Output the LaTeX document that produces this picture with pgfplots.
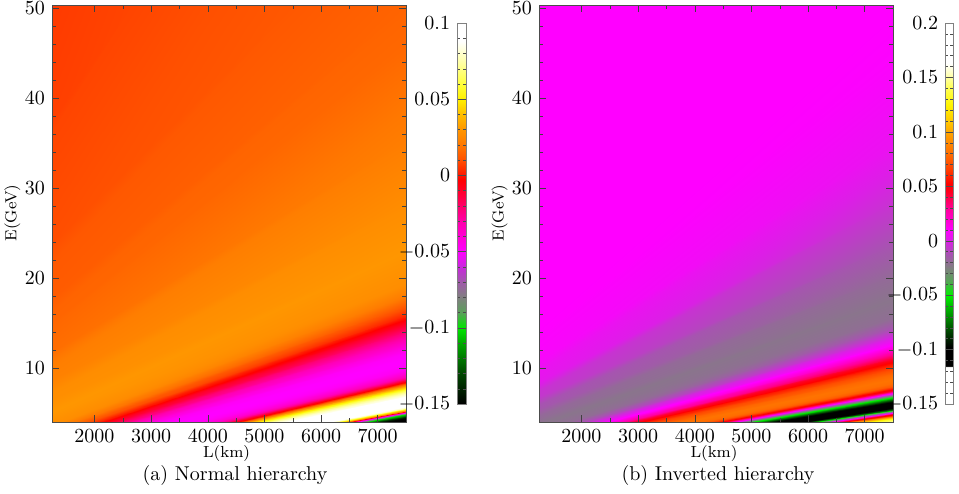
\documentclass[border=0pt]{standalone}
\usepackage{pgfplots}
\pgfplotsset{compat=1.18}
\pgfplotsset{
  colormap={mapA}{rgb255(0pt)=(0,0,0); rgb255(20pt)=(0,70,0); rgb255(40pt)=(0,170,0); rgb255(50pt)=(0,230,0);
    rgb255(60pt)=(90,160,90); rgb255(70pt)=(128,128,128); rgb255(80pt)=(160,90,170); rgb255(90pt)=(200,40,220);
    rgb255(100pt)=(255,0,255); rgb255(120pt)=(255,0,170); rgb255(140pt)=(255,0,40); rgb255(147pt)=(255,0,0);
    rgb255(153pt)=(255,40,0); rgb255(160pt)=(255,80,0); rgb255(170pt)=(255,120,0); rgb255(180pt)=(255,150,0);
    rgb255(190pt)=(255,190,0); rgb255(200pt)=(255,240,0); rgb255(210pt)=(255,255,60); rgb255(225pt)=(255,255,170);
    rgb255(238pt)=(255,255,255); rgb255(250pt)=(255,255,255)},
  colormap={mapB}{rgb255(0pt)=(255,255,255); rgb255(34pt)=(255,255,255); rgb255(35pt)=(0,0,0); rgb255(52pt)=(0,0,0);
    rgb255(65pt)=(0,60,0); rgb255(80pt)=(0,140,0); rgb255(100pt)=(0,240,0); rgb255(114pt)=(90,160,90);
    rgb255(125pt)=(128,128,128); rgb255(138pt)=(170,80,180); rgb255(150pt)=(220,30,230); rgb255(160pt)=(255,0,255);
    rgb255(180pt)=(255,0,150); rgb255(195pt)=(255,0,30); rgb255(202pt)=(255,0,0); rgb255(215pt)=(255,60,0);
    rgb255(230pt)=(255,110,0); rgb255(245pt)=(255,150,0); rgb255(260pt)=(255,200,0); rgb255(275pt)=(255,245,0);
    rgb255(290pt)=(255,255,80); rgb255(305pt)=(255,255,200); rgb255(313pt)=(255,255,255); rgb255(350pt)=(255,255,255)},
}
\begin{document}
\begin{tikzpicture}
\path[use as bounding box] (0,0) rectangle (479.5pt,246.5pt);

% (a) Normal hierarchy
\begin{axis}[at={(26pt,35.5pt)}, anchor=south west,
  scale only axis, width=177pt, height=208.5pt,
  xmin=1250, xmax=7500, ymin=4, ymax=50.3,
  xtick={2000,3000,4000,5000,6000,7000},
  xticklabels={2000,3000,4000,5000,6000,7000},
  ytick={10,20,30,40,50},
  minor x tick num=1, minor y tick num=4,
  tick align=inside,
  major tick length=3.5pt, minor tick length=2pt,
  tick style={black!75}, axis line style={black!70},
  axis on top,
  colormap name=mapA, point meta min=-0.15, point meta max=0.1,
  colorbar,
  colorbar style={at={(parent axis.south east)}, anchor=south west, xshift=17pt, yshift=9pt,
    scale only axis, width=4.5pt, height=190.5pt,
    yticklabel pos=left, minor y tick num=4, tick align=inside,
    major tick length=2.5pt, minor tick length=1.5pt,
    axis line style={black!50}, tick style={black!70},
    ytick={-0.15,-0.1,-0.05,0,0.05,0.1},
    yticklabels={$-0.15$,$-0.1$,$-0.05$,$0$,$0.05$,$0.1$}}]
\addplot[patch, patch type=triangle, shader=interp, point meta=explicit] table[x=L, y=E, meta=v] {
L E v
-2424 3.9 0.005
-1980 3.9 0.008
2730 51 0.008
-2424 3.9 0.005
2730 51 0.008
402 51 0.005
-1980 3.9 0.008
-1425 3.9 0.012
5640 51 0.012
-1980 3.9 0.008
5640 51 0.012
2730 51 0.008
-1425 3.9 0.012
-1036 3.9 0.015
7677 51 0.015
-1425 3.9 0.012
7677 51 0.015
5640 51 0.012
-1036 3.9 0.015
-870 3.9 0.016
7600 46.25 0.016
-1036 3.9 0.015
7600 46.25 0.016
7677 51 0.015
-870 3.9 0.016
-315 3.9 0.022
7600 35.56 0.022
-870 3.9 0.016
7600 35.56 0.022
7600 46.25 0.016
-315 3.9 0.022
240 3.9 0.027
7600 28.43 0.027
-315 3.9 0.022
7600 28.43 0.027
7600 35.56 0.022
240 3.9 0.027
795 3.9 0.030
7600 23.34 0.030
240 3.9 0.027
7600 23.34 0.030
7600 28.43 0.027
795 3.9 0.030
1350 3.9 0.027
7600 19.53 0.027
795 3.9 0.030
7600 19.53 0.027
7600 23.34 0.030
1350 3.9 0.027
1572 3.9 0.021
7600 18.25 0.021
1350 3.9 0.027
7600 18.25 0.021
7600 19.53 0.027
1572 3.9 0.021
1794 3.9 0.012
7600 17.10 0.012
1572 3.9 0.021
7600 17.10 0.012
7600 18.25 0.021
1794 3.9 0.012
2016 3.9 0.002
7600 16.04 0.002
1794 3.9 0.012
7600 16.04 0.002
7600 17.10 0.012
2016 3.9 0.002
2238 3.9 -0.010
7600 15.07 -0.010
2016 3.9 0.002
7600 15.07 -0.010
7600 16.04 0.002
2238 3.9 -0.010
2460 3.9 -0.022
7600 14.18 -0.022
2238 3.9 -0.010
7600 14.18 -0.022
7600 15.07 -0.010
2460 3.9 -0.022
2682 3.9 -0.033
7600 13.36 -0.033
2460 3.9 -0.022
7600 13.36 -0.033
7600 14.18 -0.022
2682 3.9 -0.033
2904 3.9 -0.042
7600 12.60 -0.042
2682 3.9 -0.033
7600 12.60 -0.042
7600 13.36 -0.033
2904 3.9 -0.042
3126 3.9 -0.048
7600 11.89 -0.048
2904 3.9 -0.042
7600 11.89 -0.048
7600 12.60 -0.042
3126 3.9 -0.048
3348 3.9 -0.050
7600 11.23 -0.050
3126 3.9 -0.048
7600 11.23 -0.050
7600 11.89 -0.048
3348 3.9 -0.050
3570 3.9 -0.050
7600 10.62 -0.050
3348 3.9 -0.050
7600 10.62 -0.050
7600 11.23 -0.050
3570 3.9 -0.050
3792 3.9 -0.047
7600 10.04 -0.047
3570 3.9 -0.050
7600 10.04 -0.047
7600 10.62 -0.050
3792 3.9 -0.047
4014 3.9 -0.040
7600 9.50 -0.040
3792 3.9 -0.047
7600 9.50 -0.040
7600 10.04 -0.047
4014 3.9 -0.040
4125 3.9 -0.033
7600 9.25 -0.033
4014 3.9 -0.040
7600 9.25 -0.033
7600 9.50 -0.040
4125 3.9 -0.033
4236 3.9 -0.024
7600 9.00 -0.024
4125 3.9 -0.033
7600 9.00 -0.024
7600 9.25 -0.033
4236 3.9 -0.024
4347 3.9 -0.012
7600 8.76 -0.012
4236 3.9 -0.024
7600 8.76 -0.012
7600 9.00 -0.024
4347 3.9 -0.012
4458 3.9 0.000
7600 8.52 0.000
4347 3.9 -0.012
7600 8.52 0.000
7600 8.76 -0.012
4458 3.9 0.000
4569 3.9 0.018
7600 8.29 0.018
4458 3.9 0.000
7600 8.29 0.018
7600 8.52 0.000
4569 3.9 0.018
4680 3.9 0.036
7600 8.07 0.036
4569 3.9 0.018
7600 8.07 0.036
7600 8.29 0.018
4680 3.9 0.036
4791 3.9 0.050
7600 7.86 0.050
4680 3.9 0.036
7600 7.86 0.050
7600 8.07 0.036
4791 3.9 0.050
4902 3.9 0.062
7600 7.65 0.062
4791 3.9 0.050
7600 7.65 0.062
7600 7.86 0.050
4902 3.9 0.062
5013 3.9 0.072
7600 7.44 0.072
4902 3.9 0.062
7600 7.44 0.072
7600 7.65 0.062
5013 3.9 0.072
5124 3.9 0.080
7600 7.25 0.080
5013 3.9 0.072
7600 7.25 0.080
7600 7.44 0.072
5124 3.9 0.080
5235 3.9 0.086
7600 7.05 0.086
5124 3.9 0.080
7600 7.05 0.086
7600 7.25 0.080
5235 3.9 0.086
5346 3.9 0.091
7600 6.87 0.091
5235 3.9 0.086
7600 6.87 0.091
7600 7.05 0.086
5346 3.9 0.091
5457 3.9 0.096
7600 6.68 0.096
5346 3.9 0.091
7600 6.68 0.096
7600 6.87 0.091
5457 3.9 0.096
5568 3.9 0.099
7600 6.51 0.099
5457 3.9 0.096
7600 6.51 0.099
7600 6.68 0.096
5568 3.9 0.099
5679 3.9 0.100
7600 6.33 0.100
5568 3.9 0.099
7600 6.33 0.100
7600 6.51 0.099
5679 3.9 0.100
5790 3.9 0.099
7600 6.16 0.099
5679 3.9 0.100
7600 6.16 0.099
7600 6.33 0.100
5790 3.9 0.099
5901 3.9 0.096
7600 6.00 0.096
5790 3.9 0.099
7600 6.00 0.096
7600 6.16 0.099
5901 3.9 0.096
6012 3.9 0.090
7600 5.84 0.090
5901 3.9 0.096
7600 5.84 0.090
7600 6.00 0.096
6012 3.9 0.090
6123 3.9 0.076
7600 5.68 0.076
6012 3.9 0.090
7600 5.68 0.076
7600 5.84 0.090
6123 3.9 0.076
6234 3.9 0.052
7600 5.53 0.052
6123 3.9 0.076
7600 5.53 0.052
7600 5.68 0.076
6234 3.9 0.052
6345 3.9 0.015
7600 5.38 0.015
6234 3.9 0.052
7600 5.38 0.015
7600 5.53 0.052
6345 3.9 0.015
6456 3.9 -0.030
7600 5.23 -0.030
6345 3.9 0.015
7600 5.23 -0.030
7600 5.38 0.015
6456 3.9 -0.030
6567 3.9 -0.070
7600 5.09 -0.070
6456 3.9 -0.030
7600 5.09 -0.070
7600 5.23 -0.030
6567 3.9 -0.070
6678 3.9 -0.100
7600 4.95 -0.100
6567 3.9 -0.070
7600 4.95 -0.100
7600 5.09 -0.070
6678 3.9 -0.100
6789 3.9 -0.122
7600 4.81 -0.122
6678 3.9 -0.100
7600 4.81 -0.122
7600 4.95 -0.100
6789 3.9 -0.122
6900 3.9 -0.138
7600 4.68 -0.138
6789 3.9 -0.122
7600 4.68 -0.138
7600 4.81 -0.122
6900 3.9 -0.138
7011 3.9 -0.148
7600 4.55 -0.148
6900 3.9 -0.138
7600 4.55 -0.148
7600 4.68 -0.138
7011 3.9 -0.148
7122 3.9 -0.150
7600 4.42 -0.150
7011 3.9 -0.148
7600 4.42 -0.150
7600 4.55 -0.148
7122 3.9 -0.150
7566 3.9 -0.150
7600 3.94 -0.150
7122 3.9 -0.150
7600 3.94 -0.150
7600 4.42 -0.150
};
\end{axis}

% (b) Inverted hierarchy
\begin{axis}[at={(269.5pt,35.5pt)}, anchor=south west,
  scale only axis, width=177pt, height=208.5pt,
  xmin=1250, xmax=7500, ymin=4, ymax=50.3,
  xtick={2000,3000,4000,5000,6000,7000},
  xticklabels={2000,3000,4000,5000,6000,7000},
  ytick={10,20,30,40,50},
  minor x tick num=1, minor y tick num=4,
  tick align=inside,
  major tick length=3.5pt, minor tick length=2pt,
  tick style={black!75}, axis line style={black!70},
  axis on top,
  colormap name=mapB, point meta min=-0.15, point meta max=0.2,
  colorbar,
  colorbar style={at={(parent axis.south east)}, anchor=south west, xshift=17.5pt, yshift=9pt,
    scale only axis, width=4pt, height=190.5pt,
    yticklabel pos=left, minor y tick num=4, tick align=inside,
    major tick length=2.5pt, minor tick length=1.5pt,
    axis line style={black!50}, tick style={black!70},
    ytick={-0.15,-0.1,-0.05,0,0.05,0.1,0.15,0.2},
    yticklabels={$-0.15$,$-0.1$,$-0.05$,$0$,$0.05$,$0.1$,$0.15$,$0.2$}}]
\addplot[patch, patch type=triangle, shader=interp, point meta=explicit] table[x=L, y=E, meta=v] {
L E v
-1692 3.9 0.010
-742 3.9 0.010
7736 51 0.010
-1692 3.9 0.010
7736 51 0.010
898 51 0.010
-742 3.9 0.010
-590 3.9 0.009
7600 44.85 0.009
-742 3.9 0.010
7600 44.85 0.009
7736 51 0.010
-590 3.9 0.009
-210 3.9 0.004
7600 35.14 0.004
-590 3.9 0.009
7600 35.14 0.004
7600 44.85 0.009
-210 3.9 0.004
170 3.9 -0.005
7600 28.67 -0.005
-210 3.9 0.004
7600 28.67 -0.005
7600 35.14 0.004
170 3.9 -0.005
550 3.9 -0.013
7600 24.04 -0.013
170 3.9 -0.005
7600 24.04 -0.013
7600 28.67 -0.005
550 3.9 -0.013
930 3.9 -0.019
7600 20.58 -0.019
550 3.9 -0.013
7600 20.58 -0.019
7600 24.04 -0.013
930 3.9 -0.019
1310 3.9 -0.022
7600 17.88 -0.022
930 3.9 -0.019
7600 17.88 -0.022
7600 20.58 -0.019
1310 3.9 -0.022
1690 3.9 -0.020
7600 15.72 -0.020
1310 3.9 -0.022
7600 15.72 -0.020
7600 17.88 -0.022
1690 3.9 -0.020
1918 3.9 -0.013
7600 14.62 -0.013
1690 3.9 -0.020
7600 14.62 -0.013
7600 15.72 -0.020
1918 3.9 -0.013
2146 3.9 -0.002
7600 13.64 -0.002
1918 3.9 -0.013
7600 13.64 -0.002
7600 14.62 -0.013
2146 3.9 -0.002
2374 3.9 0.010
7600 12.76 0.010
2146 3.9 -0.002
7600 12.76 0.010
7600 13.64 -0.002
2374 3.9 0.010
2602 3.9 0.024
7600 11.96 0.024
2374 3.9 0.010
7600 11.96 0.024
7600 12.76 0.010
2602 3.9 0.024
2830 3.9 0.042
7600 11.24 0.042
2602 3.9 0.024
7600 11.24 0.042
7600 11.96 0.024
2830 3.9 0.042
3058 3.9 0.058
7600 10.58 0.058
2830 3.9 0.042
7600 10.58 0.058
7600 11.24 0.042
3058 3.9 0.058
3286 3.9 0.070
7600 9.98 0.070
3058 3.9 0.058
7600 9.98 0.070
7600 10.58 0.058
3286 3.9 0.070
3514 3.9 0.078
7600 9.42 0.078
3286 3.9 0.070
7600 9.42 0.078
7600 9.98 0.070
3514 3.9 0.078
3742 3.9 0.082
7600 8.91 0.082
3514 3.9 0.078
7600 8.91 0.082
7600 9.42 0.078
3742 3.9 0.082
3970 3.9 0.080
7600 8.44 0.080
3742 3.9 0.082
7600 8.44 0.080
7600 8.91 0.082
3970 3.9 0.080
4122 3.9 0.074
7600 8.14 0.074
3970 3.9 0.080
7600 8.14 0.074
7600 8.44 0.080
4122 3.9 0.074
4274 3.9 0.060
7600 7.86 0.060
4122 3.9 0.074
7600 7.86 0.060
7600 8.14 0.074
4274 3.9 0.060
4426 3.9 0.040
7600 7.59 0.040
4274 3.9 0.060
7600 7.59 0.040
7600 7.86 0.060
4426 3.9 0.040
4578 3.9 0.012
7600 7.33 0.012
4426 3.9 0.040
7600 7.33 0.012
7600 7.59 0.040
4578 3.9 0.012
4730 3.9 -0.020
7600 7.09 -0.020
4578 3.9 0.012
7600 7.09 -0.020
7600 7.33 0.012
4730 3.9 -0.020
4882 3.9 -0.048
7600 6.85 -0.048
4730 3.9 -0.020
7600 6.85 -0.048
7600 7.09 -0.020
4882 3.9 -0.048
5034 3.9 -0.070
7600 6.63 -0.070
4882 3.9 -0.048
7600 6.63 -0.070
7600 6.85 -0.048
5034 3.9 -0.070
5186 3.9 -0.090
7600 6.41 -0.090
5034 3.9 -0.070
7600 6.41 -0.090
7600 6.63 -0.070
5186 3.9 -0.090
5338 3.9 -0.105
7600 6.21 -0.105
5186 3.9 -0.090
7600 6.21 -0.105
7600 6.41 -0.090
5338 3.9 -0.105
5490 3.9 -0.112
7600 6.01 -0.112
5338 3.9 -0.105
7600 6.01 -0.112
7600 6.21 -0.105
5490 3.9 -0.112
5642 3.9 -0.110
7600 5.82 -0.110
5490 3.9 -0.112
7600 5.82 -0.110
7600 6.01 -0.112
5642 3.9 -0.110
5794 3.9 -0.098
7600 5.64 -0.098
5642 3.9 -0.110
7600 5.64 -0.098
7600 5.82 -0.110
5794 3.9 -0.098
5946 3.9 -0.070
7600 5.46 -0.070
5794 3.9 -0.098
7600 5.46 -0.070
7600 5.64 -0.098
5946 3.9 -0.070
6098 3.9 -0.030
7600 5.29 -0.030
5946 3.9 -0.070
7600 5.29 -0.030
7600 5.46 -0.070
6098 3.9 -0.030
6250 3.9 0.010
7600 5.13 0.010
6098 3.9 -0.030
7600 5.13 0.010
7600 5.29 -0.030
6250 3.9 0.010
6402 3.9 0.040
7600 4.97 0.040
6250 3.9 0.010
7600 4.97 0.040
7600 5.13 0.010
6402 3.9 0.040
6554 3.9 0.070
7600 4.82 0.070
6402 3.9 0.040
7600 4.82 0.070
7600 4.97 0.040
6554 3.9 0.070
6706 3.9 0.095
7600 4.67 0.095
6554 3.9 0.070
7600 4.67 0.095
7600 4.82 0.070
6706 3.9 0.095
6858 3.9 0.115
7600 4.53 0.115
6706 3.9 0.095
7600 4.53 0.115
7600 4.67 0.095
6858 3.9 0.115
7010 3.9 0.132
7600 4.39 0.132
6858 3.9 0.115
7600 4.39 0.132
7600 4.53 0.115
7010 3.9 0.132
7162 3.9 0.145
7600 4.26 0.145
7010 3.9 0.132
7600 4.26 0.145
7600 4.39 0.132
7162 3.9 0.145
7314 3.9 0.155
7600 4.13 0.155
7162 3.9 0.145
7600 4.13 0.155
7600 4.26 0.145
7314 3.9 0.155
7466 3.9 0.160
7600 4.01 0.160
7314 3.9 0.155
7600 4.01 0.160
7600 4.13 0.155
};
\end{axis}

\node[font=\footnotesize, rotate=90] at (6.25pt,140pt) {E(GeV)};
\node[font=\footnotesize, rotate=90] at (249.75pt,140pt) {E(GeV)};
\node[font=\footnotesize] at (113.3pt,19.5pt) {L(km)};
\node[font=\footnotesize] at (357pt,19.5pt) {L(km)};
\node at (117.5pt,8.5pt) {(a) Normal hierarchy};
\node at (359pt,8.5pt) {(b) Inverted hierarchy};
\end{tikzpicture}
\end{document}
